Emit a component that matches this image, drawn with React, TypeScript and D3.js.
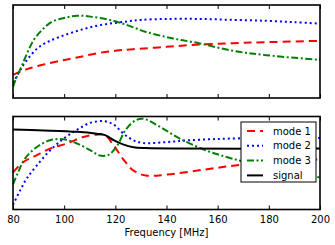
import * as d3 from 'd3';
import { useEffect, useRef } from 'react';

type Pt = [number, number];

const tickValues = [80, 100, 120, 140, 160, 180, 200];
const xLabel = 'Frequency [MHz]';
const legendLabels = ['mode 1', 'mode 2', 'mode 3', 'signal'];

// upper panel
const topMode1: Pt[] = [
    [80, 0.25], [85.5, 0.31], [92, 0.36], [98.5, 0.4], [105, 0.435], [112.7, 0.48], [120.6, 0.51],
    [127, 0.525], [140, 0.55], [153, 0.575], [166, 0.59], [179, 0.6], [200, 0.615],
];
const topMode2: Pt[] = [
    [80, 0.16], [81, 0.21], [82.8, 0.3], [85.5, 0.41], [89.4, 0.53], [93.3, 0.6], [98.5, 0.66],
    [105, 0.72], [111.5, 0.77], [118, 0.8], [125, 0.825], [130, 0.84], [140, 0.85], [153, 0.85],
    [166, 0.84], [179, 0.83], [190, 0.815], [200, 0.8],
];
const topMode3: Pt[] = [
    [80, 0.12], [81.5, 0.23], [83.5, 0.35], [85.5, 0.48], [88, 0.62], [91.3, 0.73], [95.2, 0.82],
    [100, 0.86], [105, 0.885], [110.3, 0.875], [116.8, 0.845], [120.6, 0.82], [126, 0.77],
    [132, 0.71], [142.6, 0.64], [153, 0.587], [166, 0.507], [179, 0.46], [200, 0.41],
];

// lower panel
const botMode1: Pt[] = [
    [80, 0.4], [84, 0.51], [89, 0.58], [94.5, 0.655], [101, 0.71], [107.5, 0.78], [112.7, 0.805],
    [116, 0.8], [119.3, 0.69], [123, 0.545], [127, 0.42], [132, 0.365], [140, 0.375], [155, 0.43],
    [169, 0.48], [185, 0.51], [200, 0.54],
];
const botMode2: Pt[] = [
    [80, 0.05], [82.7, 0.2], [85.3, 0.33], [89.2, 0.47], [94.5, 0.635], [99.7, 0.76], [104.9, 0.855],
    [110, 0.93], [115.3, 0.95], [119.3, 0.915], [123, 0.82], [127, 0.745], [131, 0.715], [140, 0.725],
    [149, 0.745], [168.7, 0.765], [200, 0.77],
];
const botMode3: Pt[] = [
    [80, 0.27], [82, 0.4], [84.6, 0.545], [89.2, 0.67], [94.5, 0.745], [99.7, 0.755], [105, 0.71],
    [110.3, 0.635], [114, 0.58], [117.5, 0.59], [120.8, 0.69], [124, 0.855], [128, 0.96], [131, 0.975],
    [137.4, 0.89], [145, 0.765], [155.5, 0.635], [166, 0.545], [180, 0.45], [200, 0.345],
];
const botSignal: Pt[] = [
    [80, 0.86], [92, 0.85], [105, 0.835], [112.7, 0.815], [116, 0.8], [119.3, 0.745], [123, 0.7],
    [127, 0.67], [132, 0.66], [145, 0.655], [200, 0.655],
];

const styles = [
    { color: '#ff0000', dash: '8,5' },
    { color: '#0000ff', dash: '2,3' },
    { color: '#008000', dash: '7,2.5,2,2.5' },
    { color: '#000000', dash: null },
];

export default function App() {
    const ref = useRef<SVGSVGElement | null>(null);

    useEffect(() => {
        if (!ref.current) return;
        const svg = d3.select(ref.current);
        svg.selectAll('*').remove();

        const width = 335;
        const height = 245;
        svg.attr('width', width).attr('height', height);
        svg.append('rect').attr('width', width).attr('height', height).attr('fill', '#fff');

        const x = d3.scaleLinear().domain([80, 200]).range([13, 320]);
        const panels = [
            { top: 5, bottom: 98, series: [topMode1, topMode2, topMode3] },
            { top: 116.5, bottom: 209.5, series: [botMode1, botMode2, botMode3, botSignal] },
        ];

        panels.forEach((p, pi) => {
            const y = d3.scaleLinear().domain([0, 1]).range([p.bottom, p.top]);
            const clipId = `clip${pi}`;
            svg.append('clipPath')
                .attr('id', clipId)
                .append('rect')
                .attr('x', x(80))
                .attr('y', p.top)
                .attr('width', x(200) - x(80))
                .attr('height', p.bottom - p.top);

            const line = d3
                .line<Pt>()
                .x((d) => x(d[0]))
                .y((d) => y(d[1]))
                .curve(d3.curveCatmullRom.alpha(0.5));

            const g = svg.append('g').attr('clip-path', `url(#${clipId})`);
            p.series.forEach((s, i) => {
                g.append('path')
                    .attr('d', line(s))
                    .attr('fill', 'none')
                    .attr('stroke', styles[i].color)
                    .attr('stroke-width', 2)
                    .attr('stroke-dasharray', styles[i].dash)
                    .attr('stroke-linecap', 'butt');
            });

            // inward ticks on top and bottom edges
            svg.append('g')
                .attr('transform', `translate(0,${p.top})`)
                .call(d3.axisTop(x).tickValues(tickValues).tickSize(-4).tickFormat(() => ''))
                .call((a) => a.select('.domain').remove())
                .selectAll('line')
                .attr('stroke', '#000');

            const bottomAxis = svg
                .append('g')
                .attr('transform', `translate(0,${p.bottom})`)
                .call(
                    d3
                        .axisBottom(x)
                        .tickValues(tickValues)
                        .tickSize(-4)
                        .tickPadding(6)
                        .tickFormat((d) => (pi === 1 ? d3.format('d')(d as number) : '')),
                )
                .call((a) => a.select('.domain').remove());
            bottomAxis.selectAll('line').attr('stroke', '#000');
            bottomAxis
                .selectAll('text')
                .attr('fill', '#000')
                .style('font-family', 'DejaVu Sans')
                .style('font-size', '10px');

            svg.append('rect')
                .attr('x', x(80))
                .attr('y', p.top)
                .attr('width', x(200) - x(80))
                .attr('height', p.bottom - p.top)
                .attr('fill', 'none')
                .attr('stroke', '#000')
                .attr('stroke-width', 1.6);
        });

        // x label
        svg.append('text')
            .attr('x', (x(80) + x(200)) / 2)
            .attr('y', 236)
            .attr('text-anchor', 'middle')
            .style('font-family', 'DejaVu Sans')
            .style('font-size', '10px')
            .text(xLabel);

        // legend
        const lg = svg.append('g').attr('transform', 'translate(241,122)');
        lg.append('rect')
            .attr('width', 75)
            .attr('height', 60)
            .attr('fill', '#fff')
            .attr('stroke', '#000')
            .attr('stroke-width', 1);
        legendLabels.forEach((label, i) => {
            const cy = 9 + i * 14.8;
            lg.append('line')
                .attr('x1', 6)
                .attr('x2', 22)
                .attr('y1', cy)
                .attr('y2', cy)
                .attr('stroke', styles[i].color)
                .attr('stroke-width', 2)
                .attr('stroke-dasharray', styles[i].dash);
            lg.append('text')
                .attr('x', 32)
                .attr('y', cy + 3.6)
                .style('font-family', 'DejaVu Sans')
                .style('font-size', '10px')
                .text(label);
        });
    }, []);

    return <svg ref={ref} style={{ position: 'absolute', left: 0, top: 0 }} />;
}
